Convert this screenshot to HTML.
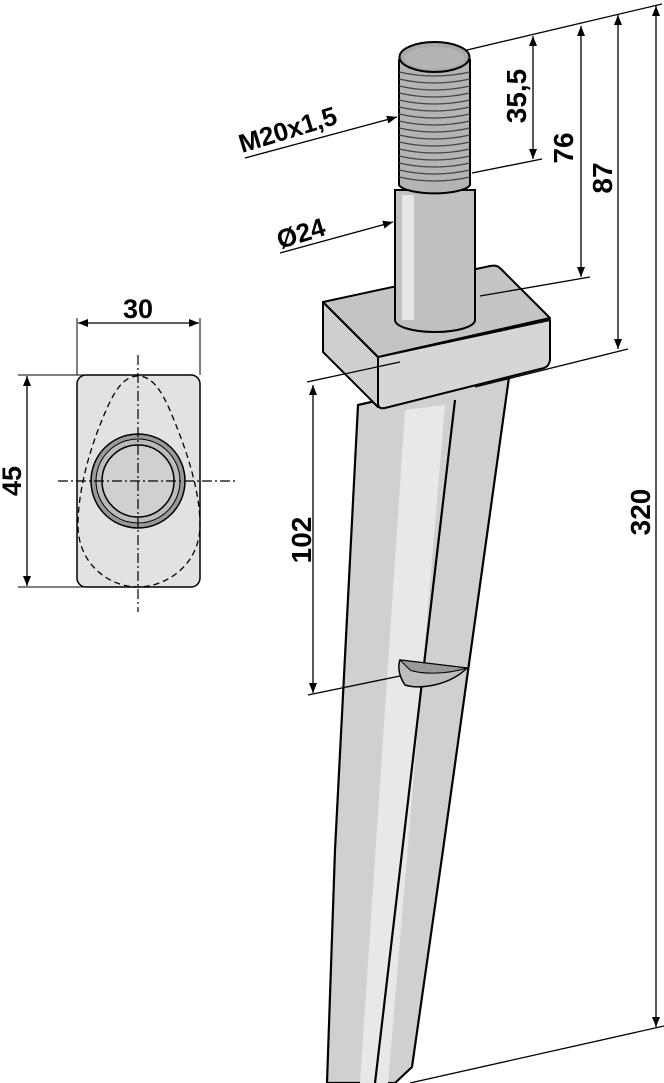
<!DOCTYPE html>
<html><head><meta charset="utf-8"><style>
html,body{margin:0;padding:0;background:#fff}
svg{display:block}
text{font-family:"Liberation Sans",Arial,sans-serif;font-weight:bold;fill:#000}
</style></head><body>
<svg width="664" height="1083" viewBox="0 0 664 1083" xmlns="http://www.w3.org/2000/svg">
<defs>
<marker id="a" viewBox="0 0 10 10" refX="10" refY="5" markerWidth="11" markerHeight="10" orient="auto-start-reverse" markerUnits="userSpaceOnUse"><path d="M0,1 L10,5 L0,9 z" fill="#000"/></marker>
</defs>
<!-- LEFT VIEW -->
<rect x="77" y="375" width="123" height="212" rx="9" fill="#e2e2e2" stroke="#000" stroke-width="1.5"/>
<path d="M138,376 C120,376 110,400 100,425 C90,450 78,490 78,525 C78,565 110,587 138,587 C166,587 200,565 200,525 C200,490 186,450 176,425 C166,400 156,376 138,376 Z" fill="none" stroke="#000" stroke-width="1.3" stroke-dasharray="6,4"/>
<circle cx="138" cy="481" r="47" fill="#999" stroke="#000" stroke-width="1.5"/>
<circle cx="138" cy="481" r="42" fill="#bbb" stroke="#000" stroke-width="1"/>
<circle cx="138" cy="481" r="36" fill="#d0d0d0" stroke="#000" stroke-width="1.5"/>
<line x1="138" y1="355" x2="138" y2="612" stroke="#000" stroke-width="1.2" stroke-dasharray="10,3,2,3"/>
<line x1="58" y1="481" x2="235" y2="481" stroke="#000" stroke-width="1.2" stroke-dasharray="10,3,2,3"/>
<line x1="77" y1="318" x2="77" y2="375" stroke="#000" stroke-width="1"/>
<line x1="200" y1="318" x2="200" y2="375" stroke="#000" stroke-width="1"/>
<line x1="78" y1="323" x2="199" y2="323" stroke="#000" stroke-width="1.3" marker-start="url(#a)" marker-end="url(#a)"/>
<text x="138" y="318" font-size="27" text-anchor="middle">30</text>
<line x1="18" y1="375" x2="90" y2="375" stroke="#000" stroke-width="1"/>
<line x1="18" y1="587" x2="90" y2="587" stroke="#000" stroke-width="1"/>
<line x1="27" y1="376" x2="27" y2="586" stroke="#000" stroke-width="1.3" marker-start="url(#a)" marker-end="url(#a)"/>
<text transform="translate(21,481) rotate(-90)" font-size="27" text-anchor="middle">45</text>

<!-- TINE -->
<path d="M358,405 L510,370 L443,850 L412,1067 L395,1083 L327,1083 L335,850 Z" fill="#d0d0d0" stroke="#000" stroke-width="2.2"/>
<path d="M405,410 L445,405 L388,1083 L360,1083 Z" fill="#e8e8e8"/>
<line x1="455" y1="400" x2="375" y2="1083" stroke="#000" stroke-width="2.2"/>
<!-- notch -->
<path d="M400,660 L467,668 C450,685 420,690 405,685 C398,675 398,665 400,660 Z" fill="#bdbdbd" stroke="#000" stroke-width="1.5"/>
<path d="M400,660 L467,668 C445,675 420,674 410,670 Z" fill="#999" stroke="#000" stroke-width="1"/>

<!-- PLATE -->
<path d="M323,302 L378,357 L378,407 L323,352 Z" fill="#cfcfcf" stroke="#000" stroke-width="2" stroke-linejoin="round"/>
<path d="M378,357 L550,320 L550,360 C549,366 546,368 540,369 L385,408 C380,409 378,407 378,404 Z" fill="#d6d6d6" stroke="#000" stroke-width="2" stroke-linejoin="round"/>
<path d="M323,302 L490,266 C496,265 498,266 501,269 L550,318 L378,357 Z" fill="#c4c4c4" stroke="#000" stroke-width="2" stroke-linejoin="round"/>

<!-- SHANK -->
<path d="M395,190 L475,190 L475,320 A40,12 0 0 1 395,320 Z" fill="#c0c0c0" stroke="#000" stroke-width="2"/>
<rect x="402" y="195" width="12" height="125" fill="#e6e6e6"/>
<!-- THREAD -->
<path d="M399,60 L470,60 L470,185 A36,10 0 0 1 399,185 Z" fill="#b4b4b4" stroke="#000" stroke-width="2"/>
<g stroke="#444" stroke-width="1.2" fill="none">
<path d="M399,72 Q434,80 470,72"/><path d="M399,79 Q434,87 470,79"/><path d="M399,86 Q434,94 470,86"/><path d="M399,93 Q434,101 470,93"/><path d="M399,100 Q434,108 470,100"/><path d="M399,107 Q434,115 470,107"/><path d="M399,114 Q434,122 470,114"/><path d="M399,121 Q434,129 470,121"/><path d="M399,128 Q434,136 470,128"/><path d="M399,135 Q434,143 470,135"/><path d="M399,142 Q434,150 470,142"/><path d="M399,149 Q434,157 470,149"/><path d="M399,156 Q434,164 470,156"/><path d="M399,163 Q434,171 470,163"/><path d="M399,170 Q434,178 470,170"/><path d="M399,177 Q434,185 470,177"/>
</g>
<ellipse cx="434.5" cy="57" rx="35" ry="15" fill="#a8a8a8" stroke="#000" stroke-width="2"/>
<ellipse cx="434.5" cy="58" rx="30" ry="11" fill="#b4b4b4"/>

<!-- DIMENSIONS RIGHT -->
<g stroke="#000" stroke-width="1.3">
<line x1="467" y1="50" x2="662" y2="4"/>
<line x1="472" y1="173" x2="542" y2="159"/>
<line x1="480" y1="296" x2="590" y2="277"/>
<line x1="475" y1="387" x2="628" y2="349"/>
<line x1="410" y1="1083" x2="664" y2="1026"/>
<line x1="307" y1="382" x2="400" y2="362"/>
<line x1="308" y1="695" x2="400" y2="676"/>
<line x1="533" y1="36" x2="533" y2="159" marker-start="url(#a)" marker-end="url(#a)"/>
<line x1="581" y1="26" x2="581" y2="277" marker-start="url(#a)" marker-end="url(#a)"/>
<line x1="618" y1="15" x2="618" y2="349" marker-start="url(#a)" marker-end="url(#a)"/>
<line x1="656" y1="6" x2="656" y2="1027" marker-start="url(#a)" marker-end="url(#a)"/>
<line x1="313" y1="385" x2="313" y2="693" marker-start="url(#a)" marker-end="url(#a)"/>
<line x1="245" y1="158" x2="397" y2="117" marker-end="url(#a)"/>
<line x1="280" y1="253" x2="393" y2="222" marker-end="url(#a)"/>
</g>
<text transform="translate(526,96) rotate(-90)" font-size="28" text-anchor="middle">35,5</text>
<text transform="translate(573,148) rotate(-90)" font-size="28" text-anchor="middle">76</text>
<text transform="translate(612,178) rotate(-90)" font-size="28" text-anchor="middle">87</text>
<text transform="translate(650,512) rotate(-90)" font-size="28" text-anchor="middle">320</text>
<text transform="translate(311,540) rotate(-90)" font-size="28" text-anchor="middle">102</text>
<text transform="translate(242,153) rotate(-17)" font-size="26">M20x1,5</text>
<text transform="translate(280,249) rotate(-17)" font-size="26">Ø24</text>
</svg>
</body></html>
